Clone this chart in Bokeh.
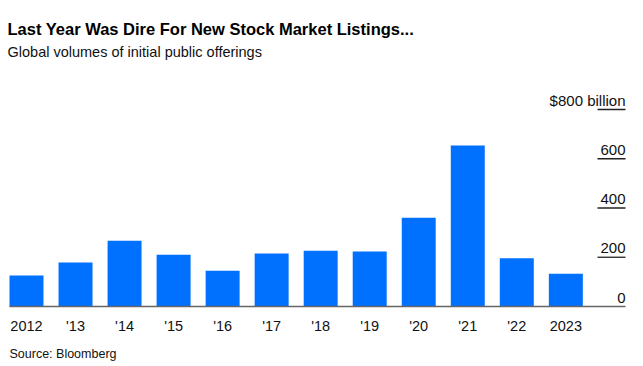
from bokeh.plotting import figure
from bokeh.models import Range1d, ColumnDataSource
from bokeh.core.properties import value
from bokeh.embed import file_html
from bokeh.resources import INLINE

# ---- data ----
years = ["2012", "'13", "'14", "'15", "'16", "'17", "'18", "'19", "'20", "'21", "'22", "2023"]
ipo_volume = [126, 179, 267, 210, 145, 215, 226, 223, 360, 654, 196, 133]  # $ billion
y_ticks = [0, 200, 400, 600, 800]
y_tick_labels = ["0", "200", "400", "600", "$800 billion"]

title = "Last Year Was Dire For New Stock Market Listings..."
subtitle = "Global volumes of initial public offerings"
source_note = "Source: Bloomberg"

# ---- layout (pixels) ----
W, H = 643, 366
first_center_px = 26.0
step_px = 49.03
zero_px = 306.0
px_per_unit = 197.0 / 800.0
frame_left_px, frame_right_px = 9.0, 625.0
grid_left_px = 597.0

def xd(px):
    return (px - first_center_px) / step_px

x_start, x_end = xd(0), xd(W)
y_end = zero_px / px_per_unit
y_start = -(H - zero_px) / px_per_unit

p = figure(width=W, height=H, output_backend="svg", toolbar_location=None,
           x_range=Range1d(x_start, x_end), y_range=Range1d(y_start, y_end),
           x_axis_location=None, y_axis_location=None, min_border=0)
p.outline_line_color = None
p.grid.visible = False
p.background_fill_color = "white"
p.border_fill_color = "white"

FONT = value("Liberation Sans")
idx = list(range(len(years)))

bars = ColumnDataSource(dict(x=idx, top=ipo_volume, label=years))
p.vbar(x="x", top="top", bottom=0, width=0.693, source=bars,
       fill_color="#0070FF", line_color=None)

# baseline
p.segment(x0=[xd(frame_left_px)], x1=[xd(frame_right_px)], y0=[0], y1=[0],
          line_color="#666666", line_width=1.5)

# grid stubs on the right (skip zero, baseline covers it)
grid_src = ColumnDataSource(dict(y=y_ticks[1:]))
p.segment(x0=xd(grid_left_px), x1=xd(frame_right_px), y0="y", y1="y", source=grid_src,
          line_color="#222222", line_width=1.3)

# y tick labels
ylab = ColumnDataSource(dict(x=[xd(frame_right_px)] * len(y_ticks), y=y_ticks, t=y_tick_labels))
p.text(x="x", y="y", text="t", source=ylab, text_align="right", text_baseline="alphabetic",
       y_offset=-9, text_font=FONT, text_font_size="15px", text_color="#111111")

# x tick labels
p.text(x="x", y=0, text="label", source=bars, text_align="center", text_baseline="alphabetic",
       y_offset=19, text_font=FONT, text_font_size="14.5px", text_color="#111111")

# titles
p.text(x=[x_start], y=[y_end], text=[title], x_offset=7, y_offset=28,
       text_align="left", text_baseline="alphabetic", text_font=FONT,
       text_font_style="bold", text_font_size="16.5px", text_color="#000000")
p.text(x=[x_start], y=[y_end], text=[subtitle], x_offset=7, y_offset=51,
       text_align="left", text_baseline="alphabetic", text_font=FONT,
       text_font_size="14.5px", text_color="#111111")
p.text(x=[x_start], y=[y_end], text=[source_note], x_offset=9, y_offset=353,
       text_align="left", text_baseline="alphabetic", text_font=FONT,
       text_font_size="12.5px", text_color="#111111")

open("out.html", "w").write(file_html(p, INLINE))
